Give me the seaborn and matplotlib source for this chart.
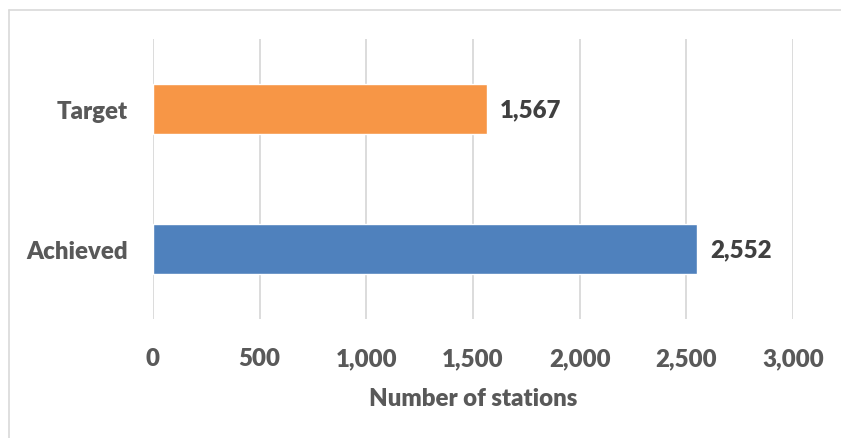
import matplotlib
matplotlib.use("Agg")
import matplotlib.pyplot as plt
import seaborn as sns
import pandas as pd
from matplotlib.lines import Line2D

categories = ["Target", "Achieved"]
values = [1567, 2552]
colors = ["#F79646", "#4F81BD"]
x_ticks = [0, 500, 1000, 1500, 2000, 2500, 3000]
x_label = "Number of stations"

sns.set_theme(style="white")
plt.rcParams["font.family"] = ["Lato", "DejaVu Sans"]

df = pd.DataFrame({"category": categories, "value": values})

fig = plt.figure(figsize=(8.41, 4.39), dpi=100)
ax = fig.add_axes([153/841, 1-320/439, 640/841, 280/439])

sns.barplot(data=df, y="category", x="value", hue="category", palette=colors,
            order=categories, orient="h", width=0.36, legend=False, ax=ax,
            saturation=1)

ax.set_xlim(0, 3000)
ax.set_ylim(1.5, -0.5)
ax.set_xticks(x_ticks)
ax.set_xticklabels([f"{v:,}" for v in x_ticks])
ax.grid(axis="x", color="#D9D9D9", linewidth=1.3)
ax.grid(axis="y", visible=False)
ax.set_axisbelow(True)
for s in ax.spines.values():
    s.set_visible(False)

fs = 17.3
wt = "heavy"
label_color = "#595959"
ax.tick_params(axis="x", length=0, pad=20.5, labelsize=fs, labelcolor=label_color)
ax.tick_params(axis="y", length=0, pad=18, labelsize=fs, labelcolor=label_color)
for t in ax.get_xticklabels() + ax.get_yticklabels():
    t.set_fontweight(wt)
ax.set_ylabel("")
ax.set_xlabel(x_label, fontsize=fs, fontweight=wt, color=label_color, labelpad=12.5)

for cont in ax.containers:
    ax.bar_label(cont, labels=[f"{v:,.0f}" for v in cont.datavalues], padding=9,
                 fontsize=fs, fontweight=wt, color="#404040")

# outer frame (top and left visible)
fig.add_artist(Line2D([9/841, 1.0], [1-11/439, 1-11/439], transform=fig.transFigure,
                      color="#D9D9D9", linewidth=1.2))
fig.add_artist(Line2D([9/841, 9/841], [0, 1-11/439], transform=fig.transFigure,
                      color="#D9D9D9", linewidth=1.2))

fig.savefig("out.png", dpi=100, facecolor="white")
